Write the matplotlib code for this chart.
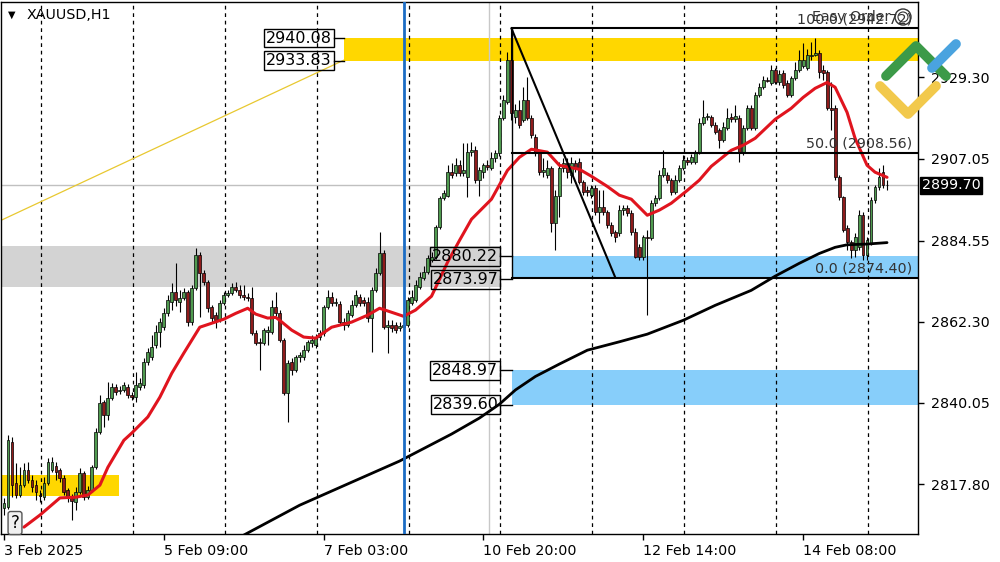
import matplotlib.pyplot as plt
import matplotlib.transforms as mtransforms
from matplotlib.patches import Rectangle, Circle

# hourly XAUUSD candles (bar index 0 = left edge)
opens = [
    2811.2, 2811.5, 2829.3, 2818.1, 2814.8, 2817.5, 2821.6, 2818.9, 2817.5, 2814.8,
    2814.2, 2818.1, 2821.6, 2822.7, 2821.6, 2819.4, 2816.1, 2814.0, 2812.9, 2815.6,
    2820.8, 2814.2, 2816.1, 2822.4, 2832.0, 2840.3, 2836.7, 2841.3, 2844.4, 2843.3,
    2843.5, 2844.4, 2842.2, 2841.6, 2844.4, 2844.9, 2851.2, 2852.6, 2855.9, 2859.4,
    2860.8, 2864.6, 2867.7, 2870.4, 2867.7, 2868.7, 2870.4, 2862.2, 2871.5, 2880.5,
    2875.6, 2873.1, 2866.3, 2864.1, 2862.7, 2867.4, 2869.6, 2870.1, 2871.8, 2870.9,
    2869.6, 2869.0, 2868.7, 2859.2, 2856.7, 2856.4, 2859.4, 2859.4, 2866.3, 2864.6,
    2857.2, 2842.7, 2851.2, 2849.0, 2852.6, 2852.6, 2854.5, 2856.4, 2855.9, 2858.1,
    2859.2, 2866.3, 2869.0, 2867.4, 2867.1, 2862.2, 2861.4, 2864.1, 2866.8, 2869.0,
    2868.2, 2867.7, 2863.3, 2870.9, 2875.6, 2881.1, 2860.8, 2861.4, 2861.4, 2860.5,
    2860.8, 2861.4, 2867.4, 2868.2, 2871.8, 2874.2, 2875.9, 2879.2, 2880.0, 2888.2,
    2896.2, 2896.9, 2903.3, 2903.0, 2905.2, 2903.0, 2901.9, 2908.8, 2909.3, 2901.1,
    2903.3, 2905.2, 2904.4, 2907.1, 2908.5, 2918.1, 2922.5, 2934.0, 2918.3, 2920.3,
    2917.5, 2923.0, 2918.1, 2912.9, 2908.5, 2903.3, 2902.5, 2904.4, 2889.3, 2896.9,
    2904.4, 2905.7, 2902.5, 2905.7, 2906.0, 2900.5, 2898.3, 2897.0, 2898.9, 2892.3,
    2893.7, 2892.3, 2888.8, 2886.8, 2886.6, 2892.9, 2893.4, 2892.0, 2886.8, 2882.7,
    2880.0, 2885.5, 2885.2, 2894.8, 2896.1, 2902.5, 2902.5, 2901.1, 2897.8, 2901.1,
    2904.4, 2906.6, 2906.0, 2906.0, 2908.8, 2916.7, 2918.3, 2918.3, 2916.2, 2914.8,
    2912.0, 2915.3, 2918.3, 2917.8, 2918.1, 2908.5, 2915.3, 2920.8, 2915.3, 2924.4,
    2926.6, 2928.5, 2927.7, 2931.2, 2927.9, 2930.4, 2927.7, 2924.4, 2929.0, 2931.2,
    2932.3, 2931.8, 2935.1, 2935.3, 2935.9, 2931.2, 2930.7, 2920.8, 2920.8, 2901.9,
    2896.4, 2887.9, 2884.1, 2881.9, 2882.7, 2891.5, 2880.5, 2883.8, 2895.6, 2899.2,
    2903.3, 2899.7,
]
highs = [
    2814.0, 2831.2, 2830.7, 2823.5, 2822.4, 2823.5, 2823.8, 2820.3, 2818.9, 2816.1,
    2819.7, 2824.9, 2825.2, 2823.8, 2822.2, 2820.3, 2816.7, 2815.0, 2817.0, 2822.2,
    2821.3, 2817.2, 2823.0, 2833.1, 2842.2, 2840.8, 2845.7, 2845.4, 2845.1, 2844.6,
    2845.7, 2845.1, 2843.0, 2848.5, 2846.8, 2852.3, 2855.1, 2858.6, 2861.3, 2863.3,
    2866.0, 2869.6, 2872.9, 2878.3, 2870.9, 2871.5, 2870.9, 2872.3, 2882.4, 2881.4,
    2876.4, 2873.7, 2866.8, 2864.9, 2868.2, 2870.4, 2870.9, 2872.9, 2873.1, 2872.3,
    2872.3, 2870.1, 2871.8, 2860.0, 2857.8, 2860.5, 2861.1, 2868.2, 2870.4, 2865.5,
    2857.8, 2851.8, 2852.3, 2853.1, 2853.9, 2855.9, 2857.2, 2858.6, 2858.9, 2860.0,
    2866.8, 2870.9, 2870.4, 2868.7, 2867.9, 2863.3, 2865.5, 2868.2, 2870.9, 2869.8,
    2869.0, 2869.0, 2871.8, 2877.0, 2886.8, 2881.9, 2862.7, 2862.7, 2862.2, 2862.2,
    2862.7, 2869.0, 2870.9, 2873.7, 2875.9, 2877.5, 2880.5, 2881.4, 2888.8, 2896.9,
    2898.3, 2905.2, 2905.7, 2907.1, 2906.6, 2911.2, 2911.2, 2911.5, 2910.4, 2904.6,
    2905.7, 2906.6, 2908.8, 2909.3, 2918.9, 2924.4, 2936.2, 2942.7, 2921.9, 2923.0,
    2926.6, 2929.3, 2918.9, 2913.7, 2909.3, 2907.1, 2906.6, 2904.9, 2898.3, 2906.0,
    2907.1, 2907.1, 2907.4, 2906.6, 2907.1, 2901.1, 2899.4, 2899.7, 2899.7, 2898.3,
    2898.3, 2892.9, 2889.6, 2887.4, 2894.2, 2894.2, 2894.2, 2892.9, 2887.9, 2883.5,
    2886.0, 2887.4, 2895.6, 2897.0, 2903.8, 2909.3, 2903.3, 2901.6, 2902.5, 2905.2,
    2907.9, 2907.4, 2908.2, 2909.3, 2918.1, 2923.0, 2919.4, 2918.9, 2917.0, 2915.3,
    2917.0, 2920.8, 2919.4, 2921.6, 2918.9, 2916.2, 2921.6, 2921.6, 2925.2, 2927.7,
    2929.6, 2929.3, 2932.6, 2931.8, 2931.2, 2931.2, 2928.5, 2929.8, 2933.4, 2936.7,
    2938.6, 2937.2, 2938.9, 2940.0, 2936.7, 2932.6, 2931.2, 2928.0, 2921.6, 2902.5,
    2896.9, 2888.8, 2884.6, 2886.6, 2892.9, 2892.3, 2885.5, 2896.4, 2899.7, 2904.4,
    2905.2, 2901.1,
]
lows = [
    2809.3, 2810.9, 2814.2, 2814.0, 2814.2, 2817.0, 2818.1, 2815.6, 2813.4, 2812.9,
    2813.4, 2817.5, 2821.1, 2818.9, 2818.3, 2814.8, 2812.9, 2807.9, 2810.7, 2815.0,
    2813.4, 2813.7, 2815.6, 2821.9, 2831.5, 2833.4, 2835.3, 2840.8, 2842.2, 2842.4,
    2843.0, 2841.3, 2840.8, 2840.3, 2843.5, 2844.1, 2850.4, 2851.8, 2855.1, 2855.3,
    2860.0, 2863.8, 2865.5, 2866.6, 2864.9, 2868.2, 2861.1, 2861.4, 2870.9, 2863.5,
    2872.3, 2864.9, 2862.2, 2860.5, 2862.2, 2866.8, 2869.0, 2869.6, 2870.4, 2868.7,
    2868.2, 2867.9, 2858.6, 2855.9, 2849.0, 2855.9, 2855.9, 2858.9, 2863.8, 2856.7,
    2842.2, 2834.8, 2847.6, 2848.5, 2851.2, 2851.8, 2853.9, 2855.3, 2855.1, 2857.2,
    2858.3, 2865.7, 2866.6, 2866.6, 2861.6, 2860.0, 2860.8, 2863.5, 2866.3, 2866.6,
    2866.6, 2862.2, 2854.0, 2870.4, 2875.1, 2860.3, 2853.7, 2859.4, 2859.2, 2859.7,
    2860.0, 2860.8, 2866.8, 2867.7, 2871.2, 2873.7, 2875.3, 2878.6, 2879.4, 2887.7,
    2895.6, 2896.4, 2901.6, 2902.2, 2902.2, 2902.2, 2896.4, 2907.7, 2900.3, 2896.7,
    2901.6, 2903.8, 2903.8, 2906.0, 2907.7, 2917.5, 2921.9, 2917.5, 2916.7, 2915.3,
    2917.0, 2917.5, 2912.6, 2907.7, 2902.5, 2901.9, 2901.6, 2886.8, 2881.9, 2890.9,
    2903.3, 2901.6, 2900.3, 2903.3, 2900.0, 2897.0, 2896.7, 2896.1, 2891.5, 2889.3,
    2891.5, 2888.0, 2885.7, 2884.1, 2885.7, 2891.5, 2891.2, 2886.0, 2879.7, 2879.2,
    2879.2, 2864.1, 2884.6, 2893.9, 2895.6, 2901.9, 2900.3, 2897.0, 2897.2, 2900.5,
    2903.8, 2905.2, 2905.5, 2905.5, 2908.2, 2916.2, 2917.5, 2915.6, 2913.7, 2909.9,
    2911.5, 2914.8, 2917.0, 2917.2, 2906.0, 2907.9, 2914.8, 2914.8, 2914.8, 2923.8,
    2926.0, 2927.9, 2927.1, 2927.4, 2927.1, 2926.3, 2923.8, 2923.8, 2928.5, 2930.7,
    2931.8, 2931.2, 2934.0, 2935.1, 2929.0, 2928.5, 2920.3, 2914.8, 2901.1, 2895.6,
    2886.8, 2881.9, 2879.7, 2880.0, 2881.9, 2879.2, 2879.2, 2883.3, 2894.8, 2898.3,
    2898.9, 2898.3,
]
closes = [
    2812.6, 2829.8, 2817.5, 2814.8, 2817.5, 2821.6, 2818.9, 2817.0, 2815.6, 2814.5,
    2818.1, 2823.8, 2823.8, 2821.1, 2819.4, 2815.6, 2814.2, 2813.1, 2815.6, 2820.8,
    2814.2, 2816.1, 2822.4, 2832.0, 2840.0, 2836.7, 2841.3, 2844.4, 2843.0, 2843.5,
    2844.9, 2842.2, 2841.6, 2844.9, 2845.5, 2851.2, 2853.9, 2855.3, 2859.4, 2862.2,
    2864.6, 2868.2, 2870.4, 2868.2, 2868.9, 2870.4, 2862.2, 2871.5, 2880.5, 2875.6,
    2873.1, 2866.0, 2863.3, 2862.7, 2867.4, 2869.6, 2870.1, 2871.8, 2870.9, 2869.6,
    2869.0, 2868.7, 2859.2, 2856.4, 2856.4, 2860.0, 2860.0, 2866.3, 2864.6, 2857.2,
    2842.7, 2850.9, 2849.0, 2852.6, 2853.1, 2854.5, 2856.7, 2857.2, 2858.1, 2859.2,
    2866.3, 2869.0, 2867.4, 2867.5, 2862.2, 2861.4, 2864.6, 2866.8, 2869.6, 2867.4,
    2867.4, 2863.3, 2870.9, 2875.6, 2881.1, 2860.8, 2861.4, 2860.5, 2860.0, 2861.1,
    2861.4, 2868.2, 2869.0, 2872.3, 2874.5, 2875.9, 2879.7, 2880.0, 2888.2, 2896.2,
    2897.5, 2903.3, 2902.5, 2905.2, 2903.0, 2903.8, 2908.8, 2909.3, 2901.1, 2903.8,
    2905.2, 2904.6, 2907.1, 2908.5, 2918.1, 2923.0, 2934.0, 2919.4, 2920.3, 2916.2,
    2923.0, 2918.1, 2913.4, 2908.5, 2903.3, 2903.8, 2904.4, 2889.3, 2896.9, 2904.4,
    2905.7, 2903.3, 2905.7, 2904.4, 2900.5, 2897.8, 2897.8, 2898.9, 2892.3, 2893.7,
    2892.3, 2888.8, 2886.6, 2885.5, 2892.9, 2893.4, 2892.0, 2886.8, 2880.0, 2880.0,
    2885.5, 2885.2, 2894.8, 2896.1, 2902.5, 2904.4, 2901.1, 2897.8, 2901.1, 2904.4,
    2906.6, 2906.0, 2907.4, 2908.8, 2916.7, 2918.3, 2918.6, 2916.2, 2914.2, 2912.0,
    2915.6, 2918.1, 2917.8, 2918.6, 2908.5, 2915.3, 2920.8, 2915.3, 2924.4, 2926.6,
    2928.5, 2928.4, 2931.2, 2927.9, 2930.1, 2927.1, 2924.4, 2929.0, 2931.2, 2934.0,
    2934.0, 2935.3, 2935.3, 2935.9, 2930.7, 2930.4, 2920.8, 2920.3, 2901.9, 2896.4,
    2887.4, 2884.1, 2881.9, 2885.5, 2891.5, 2880.5, 2884.6, 2895.6, 2899.2, 2901.9,
    2899.7, 2899.7,
]

# moving averages read at a few bars
red_ma_idx = [5, 9, 14, 18, 21, 24, 26, 30, 32, 36, 39, 42, 45, 49, 52, 55, 58, 61,
              63, 66, 68, 69, 72, 75, 78, 82, 87, 91, 94, 97, 100, 103, 107, 111, 114,
              117, 122, 126, 129, 132, 136, 139, 144, 147, 151, 154, 157, 159, 161, 164,
              167, 171, 174, 177, 182, 185, 188, 193, 197, 200, 203, 206, 208, 211, 213,
              216, 218, 221]
red_ma = [2806.0, 2809.3, 2814.0, 2814.2, 2814.8, 2817.5, 2822.4, 2829.8, 2831.8, 2836.2,
          2841.6, 2848.2, 2853.7, 2860.8, 2861.9, 2863.0, 2864.6, 2866.0, 2864.4, 2863.3,
          2863.5, 2862.7, 2860.0, 2858.1, 2857.8, 2860.8, 2862.2, 2864.1, 2866.0, 2864.9,
          2863.8, 2865.5, 2869.3, 2878.6, 2884.6, 2890.4, 2895.9, 2903.8, 2907.4, 2909.6,
          2908.8, 2905.2, 2904.1, 2902.2, 2899.4, 2897.0, 2895.9, 2893.7, 2891.5, 2892.9,
          2894.8, 2898.3, 2901.1, 2904.9, 2909.3, 2910.7, 2912.6, 2917.8, 2920.8, 2923.8,
          2926.3, 2927.9, 2926.6, 2919.7, 2912.6, 2905.2, 2903.3, 2901.9]
black_ma_idx = [60, 74, 87, 99, 112, 119, 124, 128, 133, 139, 146, 154, 161, 170, 178,
                187, 193, 199, 204, 208, 211, 216, 221]
black_ma = [2803.8, 2812.0, 2818.3, 2824.1, 2831.5, 2835.9, 2839.7, 2843.6, 2847.3, 2850.7,
            2854.5, 2856.8, 2858.9, 2862.7, 2866.8, 2870.9, 2874.8, 2878.3, 2881.0, 2882.7,
            2883.4, 2883.6, 2884.0]

price_ticks = [2929.30, 2907.05, 2884.55, 2862.30, 2840.05, 2817.80]
time_ticks = [0, 40, 80, 120, 160, 200]
time_labels = ["3 Feb 2025", "5 Feb 09:00", "7 Feb 03:00", "10 Feb 20:00",
               "12 Feb 14:00", "14 Feb 08:00"]
fib_levels = [2942.72, 2908.56, 2874.40]
fib_names = ["100.0", "50.0", "0.0"]
last_price = 2899.70

# zones: (start bar, end bar, low, high, colour)
zones = [
    (-0.75, 124.25, 2871.8, 2883.0, "#d3d3d3"),
    (85.0, 228.75, 2933.83, 2940.08, "#ffd700"),
    (-0.75, 28.75, 2814.5, 2820.3, "#ffd700"),
    (127.25, 228.75, 2873.97, 2880.22, "#87cefa"),
    (127.25, 228.75, 2839.60, 2848.97, "#87cefa"),
]

plt.rcParams["font.family"] = ["DejaVu Sans"]
fs = 10.3

fig = plt.figure(figsize=(10, 5.62), dpi=100)
ax = fig.add_axes([0.001, 0.0498, 0.917, 0.9475])
ax.set_xlim(-0.75, 228.75)
ax.set_ylim(2804.1, 2950.1)

for x0, x1, lo, hi, col in zones:
    ax.add_patch(Rectangle((x0, lo), x1 - x0, hi - lo, color=col, lw=0, zorder=0.5))

# dashed vertical grid
for k in range(10):
    ax.axvline(9.25 + 23 * k, color="black", lw=0.9, ls=(0, (3, 3)), zorder=1)
ax.axvline(121.5, color="#c8c8c8", lw=1, zorder=1)
ax.axhline(last_price, color="#c0c0c0", lw=1, zorder=1)
ax.axvline(100, color="#1c6cc4", lw=2, zorder=4)

# yellow trend line
ax.plot([-0.75, 85], [2890.1, 2934.0], color="#e8c830", lw=0.9, zorder=1.2)

idx = list(range(len(closes)))
ax.vlines(idx, lows, highs, color="black", lw=0.8, zorder=2)
bottoms = [min(o, c) for o, c in zip(opens, closes)]
heights = [max(abs(c - o), 0.2) for o, c in zip(opens, closes)]
colors = ["#4f9a4f" if c >= o else "#8e1b1b" for o, c in zip(opens, closes)]
ax.bar(idx, heights, bottom=bottoms, width=0.72, color=colors,
       edgecolor="black", linewidth=0.5, zorder=2.5)

ax.plot(red_ma_idx, red_ma, color="#e0141e", lw=2.2, zorder=3,
        solid_capstyle="round", solid_joinstyle="round")
ax.plot(black_ma_idx, black_ma, color="black", lw=2, zorder=3,
        solid_capstyle="round", solid_joinstyle="round")

# fibonacci
fib_x0 = 127.25
for lvl, name in zip(fib_levels, fib_names):
    ax.plot([fib_x0, 228.75], [lvl, lvl], color="black", lw=1.5, zorder=4)
    ax.text(227.3, lvl + 0.6, f"{name} ({lvl:.2f})", ha="right", va="bottom",
            fontsize=fs, color="#333333", zorder=5)
ax.plot([fib_x0, fib_x0], [fib_levels[2], fib_levels[0]], color="black", lw=1, zorder=4)
ax.plot([127, 153], [fib_levels[0], fib_levels[2]], color="black", lw=1.5, zorder=4)


def price_box(xr, price, conn_to):
    ax.text(xr, price, f"{price:.2f}", ha="right", va="center", fontsize=11.5,
            zorder=6, bbox=dict(boxstyle="square,pad=0.12", fc="none", ec="black", lw=1))
    ax.plot([xr + 0.5, conn_to], [price, price], color="black", lw=1, zorder=6)


price_box(82.0, 2940.08, 85.0)
price_box(82.0, 2933.83, 85.0)
price_box(123.75, 2880.22, 127.25)
price_box(123.75, 2873.97, 127.25)
price_box(123.75, 2848.97, 127.25)
price_box(123.75, 2839.60, 127.25)

# axes
ax.set_xticks(time_ticks)
ax.set_xticklabels(time_labels, ha="left")
ax.yaxis.tick_right()
ax.set_yticks(price_ticks)
ax.set_yticklabels([f"{p:.2f}" for p in price_ticks])
ax.tick_params(axis="both", direction="out", length=4, width=1, labelsize=fs, colors="black")
ax.tick_params(axis="y", pad=5)
ax.tick_params(axis="x", pad=3)
for s in ax.spines.values():
    s.set_linewidth(1)

trans = mtransforms.blended_transform_factory(ax.transAxes, ax.transData)
ax.text(1.004, last_price, f"{last_price:.2f}", transform=trans, ha="left", va="center",
        fontsize=fs, color="white", clip_on=False, zorder=7,
        bbox=dict(boxstyle="square,pad=0.12", fc="black", ec="black"))

# overlay in pixel space for header, logo and widgets
ov = fig.add_axes([0, 0, 1, 1])
ov.set_xlim(0, 1000)
ov.set_ylim(562, 0)
ov.axis("off")
ov.patch.set_alpha(0)
ov.text(8, 15, "\u25bc", fontsize=7, ha="left", va="center")
ov.text(27, 15, "XAUUSD,H1", fontsize=fs, ha="left", va="center")
ov.text(812, 17, "Easy Order", fontsize=fs, ha="left", va="center", color="#333333")
ov.add_patch(Circle((903, 17), 8, fill=False, ec="#333333", lw=1))
ov.add_patch(Circle((903, 17), 5, fill=False, ec="#333333", lw=0.8))
ov.text(15, 523, "?", fontsize=12, ha="center", va="center",
        bbox=dict(boxstyle="round,pad=0.15", fc="#f0f0f0", ec="#555555", lw=1))

# logo
ov.plot([880, 908, 936], [86, 114, 86], color="#f2c94c", lw=7, solid_capstyle="round")
ov.plot([886, 916, 946], [76, 46, 76], color="#3c9a48", lw=7, solid_capstyle="round")
ov.plot([932, 956], [68, 44], color="#4aa3df", lw=7, solid_capstyle="round")

fig.savefig("out.png", dpi=100)
